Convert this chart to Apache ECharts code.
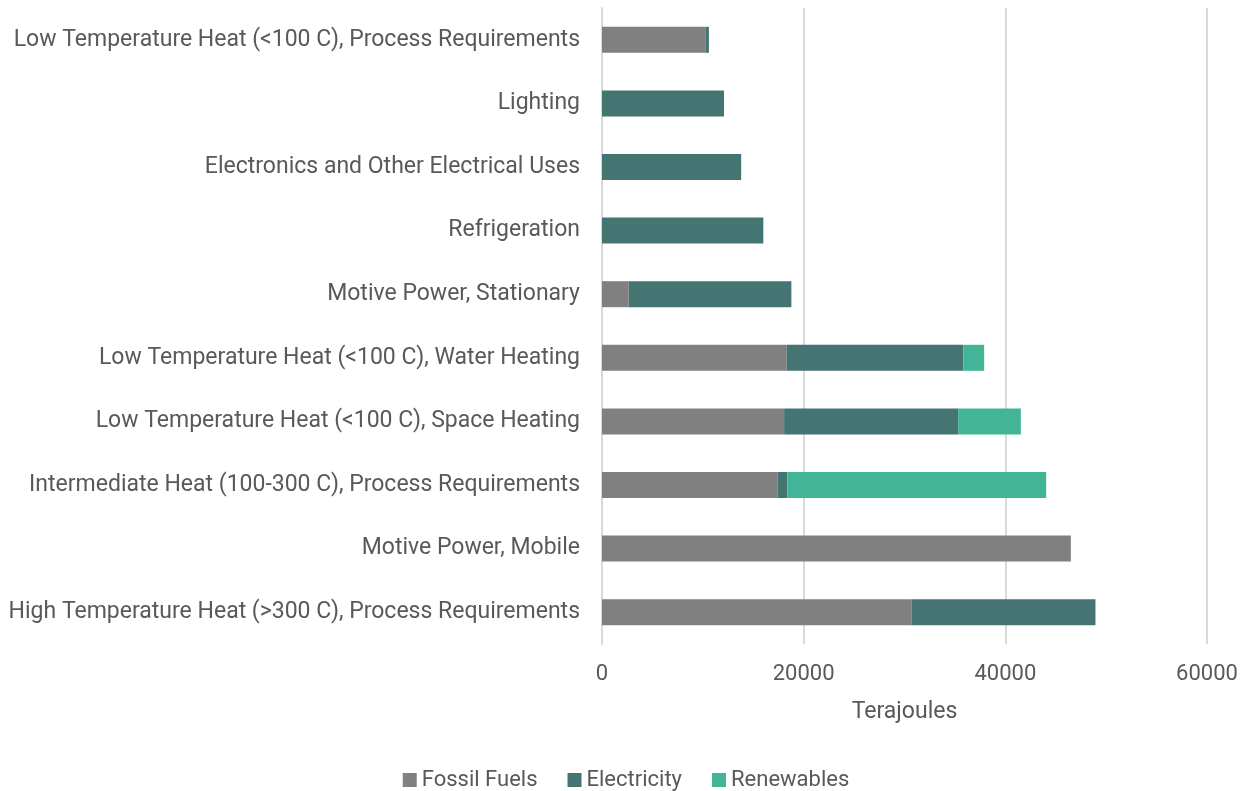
<!DOCTYPE html>
<html>
<head>
<meta charset="utf-8">
<script src="https://cdn.jsdelivr.net/npm/echarts@6/dist/echarts.min.js"></script>
<style>
    html, body { margin: 0; padding: 0; background: #fff; }
    #chart { width: 1252px; height: 791px; }
</style>
</head>
<body>
<div id="chart"></div>
<script>
// categories listed bottom to top
const categories = [
    "High Temperature Heat (>300 C), Process Requirements",
    "Motive Power, Mobile",
    "Intermediate Heat (100-300 C), Process Requirements",
    "Low Temperature Heat (<100 C), Space Heating",
    "Low Temperature Heat (<100 C), Water Heating",
    "Motive Power, Stationary",
    "Refrigeration",
    "Electronics and Other Electrical Uses",
    "Lighting",
    "Low Temperature Heat (<100 C), Process Requirements"
];
const fossilFuels = [30720, 46500, 17430, 18060, 18320, 2650, 0, 0, 0, 10300];
const electricity = [18220, 0, 960, 17260, 17530, 16130, 16000, 13800, 12100, 300];
const renewables = [0, 0, 25660, 6220, 2050, 0, 0, 0, 0, 0];

const font = "Roboto";
const textColor = "#595959";

let chart = echarts.init(document.getElementById("chart"));

function makeSeries(name, data, color) {
    return {
        name: name,
        type: "bar",
        stack: "total",
        barWidth: 26,
        data: data,
        itemStyle: { color: color },
        emphasis: { disabled: true }
    };
}

chart.setOption({
    animation: false,
    textStyle: { fontFamily: font },
    grid: {
        left: 602,
        right: 45,
        top: 8,
        bottom: 147,
        containLabel: false
    },
    legend: {
        top: 764,
        left: "center",
        itemWidth: 14,
        itemHeight: 14,
        itemGap: 30,
        icon: "rect",
        textStyle: { fontSize: 22, color: textColor, fontFamily: font },
        data: ["Fossil Fuels", "Electricity", "Renewables"]
    },
    xAxis: {
        type: "value",
        min: 0,
        max: 60000,
        interval: 20000,
        name: "Terajoules",
        nameLocation: "middle",
        nameGap: 57,
        nameTextStyle: { fontSize: 23, color: textColor },
        axisLine: { show: false },
        axisTick: { show: false },
        axisLabel: {
            fontSize: 22,
            color: textColor,
            margin: 19,
            formatter: (v) => String(v)
        },
        splitLine: { lineStyle: { color: "#d9d9d9", width: 2 } }
    },
    yAxis: {
        type: "category",
        data: categories,
        axisLine: { show: true, lineStyle: { color: "#d9d9d9", width: 2 } },
        axisTick: { show: false },
        axisLabel: { fontSize: 23, color: textColor, margin: 22, padding: [4, 0, 0, 0] }
    },
    series: [
        makeSeries("Fossil Fuels", fossilFuels, "#808080"),
        makeSeries("Electricity", electricity, "#447572"),
        makeSeries("Renewables", renewables, "#42b596")
    ]
});
</script>
</body>
</html>
